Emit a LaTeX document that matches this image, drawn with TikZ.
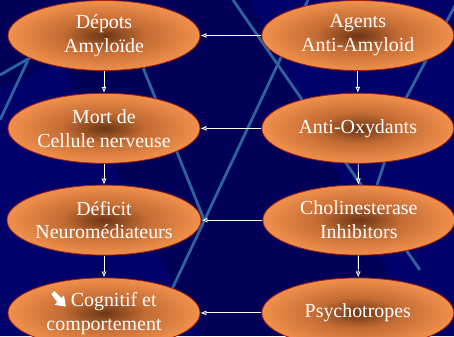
\documentclass[tikz,border=0pt]{standalone}
\usepackage{fontspec}
\setmainfont{Liberation Serif}
\newfontfamily\ovalfont{Liberation Serif}
\usetikzlibrary{shapes.geometric,positioning,arrows.meta}
\definecolor{navy}{RGB}{0,0,88}
\definecolor{navylight}{RGB}{0,0,120}
\definecolor{streakblue}{RGB}{44,100,160}
\definecolor{ovalrim}{RGB}{240,144,76}
\definecolor{ovalmid}{RGB}{196,108,52}
\definecolor{ovalcore}{RGB}{108,54,20}
\definecolor{ovalline}{RGB}{170,30,15}
\pgfdeclareradialshading{glow}{\pgfpoint{0bp}{0bp}}{color(0bp)=(ovalcore); color(11bp)=(ovalmid); color(25bp)=(ovalrim); color(50bp)=(ovalrim)}
\newcommand\heavyse{\tikz[baseline=0pt,scale=1.2]\fill[white] (0bp,10.5bp) -- (2.5bp,13bp) -- (8.3bp,7.2bp) -- (10.5bp,9.4bp) -- (12bp,0bp) -- (2.6bp,1.5bp) -- (4.8bp,3.7bp) -- cycle;}
\begin{document}
\begin{tikzpicture}[x=1bp,y=-1bp,
    band/.style={fill=navylight,opacity=0.6},
    streak/.style={draw=streakblue,line width=2.8bp},
    oval/.style={ellipse,draw=ovalline,line width=0.8bp,shading=glow,
        minimum width=192bp,minimum height=70bp,inner sep=0pt,
        text=white,align=center,font=\ovalfont\fontsize{20}{24}\selectfont},
    link/.style={draw=white,line width=0.9bp,-{Latex[length=6bp,width=5bp]}},
]
	\useasboundingbox (0,0) rectangle (454,336);
	\fill[navy] (0,0) rectangle (454,336);
	% background bands
	\fill[band] (250,0) -- (454,0) -- (454,336) -- (420,336) -- cycle;
	\fill[band] (0,90) -- (60,60) -- (200,336) -- (0,336) -- cycle;
	% background streaks
	\draw[streak] (233,0) -- (420,270);
	\draw[streak] (308,0) -- (150,336);
	\draw[streak] (132,40) -- (205,222);
	\draw[streak] (0,75) -- (40,52);
	\draw[streak] (28,60) -- (0,120);
	\draw[streak] (458,0) -- (405,100) -- (377,185);

	% causes
	\node[oval] at (104,35.5) (depots) {Dépots\\Amyloïde};
	\node[oval,below=22bp of depots] (mort) {Mort de\\Cellule nerveuse};
	\node[oval,below=21bp of mort] (deficit) {Déficit\\Neuromédiateurs};
	\node[oval,below=22bp of deficit] (cognitif) {\heavyse\ Cognitif et\\comportement};
	% traitements
	\node[oval,right=61bp of depots] (agents) {Agents\\Anti-Amyloid};
	\node[oval,right=61bp of mort] (antiox) {Anti-Oxydants};
	\node[oval,right=61bp of deficit] (cholin) {Cholinesterase\\Inhibitors};
	\node[oval,right=61bp of cognitif] (psycho) {Psychotropes};

	\draw[link] (depots) -- (mort);
	\draw[link] (mort) -- (deficit);
	\draw[link] (deficit) -- (cognitif);
	\draw[link] (agents) -- (antiox);
	\draw[link] (antiox) -- (cholin);
	\draw[link] (cholin) -- (psycho);

	\draw[link] (agents) -- (depots);
	\draw[link] (antiox) -- (mort);
	\draw[link] (cholin) -- (deficit);
	\draw[link] (psycho) -- (cognitif);
\end{tikzpicture}
\end{document}
